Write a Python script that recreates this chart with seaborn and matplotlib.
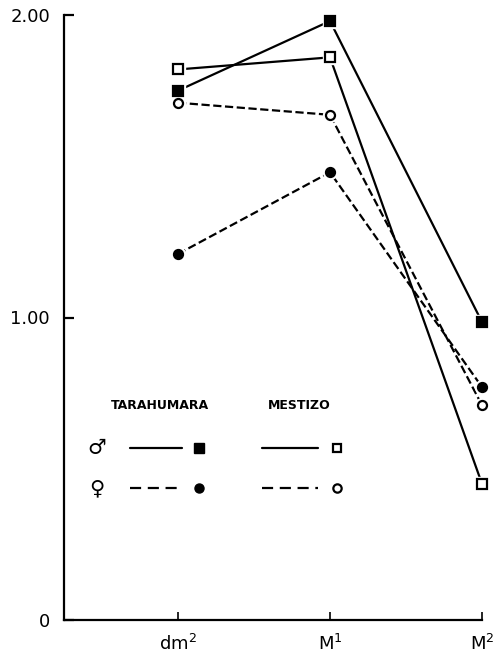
import matplotlib
matplotlib.use("Agg")
import matplotlib.pyplot as plt
import seaborn as sns
import pandas as pd

# Molar size ratios by tooth position
teeth = ["dm$^{2}$", "M$^{1}$", "M$^{2}$"]
tarahumara_male = [1.75, 1.98, 0.985]
tarahumara_female = [1.21, 1.48, 0.77]
mestizo_male = [1.82, 1.86, 0.45]
mestizo_female = [1.71, 1.67, 0.71]
y_ticks = [0, 1.0, 2.0]
y_tick_labels = ["0", "1.00", "2.00"]

sns.set_theme(style="white")
plt.rcParams["font.family"] = ["DejaVu Sans"]
plt.rcParams["text.color"] = "black"

series = [
    # values, linestyle, marker, filled
    (tarahumara_male, "-", "s", True),
    (mestizo_male, "-", "s", False),
    (tarahumara_female, "--", "o", True),
    (mestizo_female, "--", "o", False),
]

fig = plt.figure(figsize=(5.01, 6.54), dpi=100)
ax = fig.add_axes([64 / 501, 34 / 654, 418 / 501, 605 / 654])

pos = list(range(len(teeth)))
lw = 1.6
for vals, ls, mk, filled in series:
    df = pd.DataFrame({"pos": pos, "val": vals})
    sns.lineplot(data=df, x="pos", y="val", ax=ax, color="black",
                 linewidth=lw, linestyle=ls, dashes=False if ls == "-" else (5, 3),
                 clip_on=False, zorder=2)
    # white halo leaves a small gap between line and marker
    ax.plot(df["pos"], df["val"], linestyle="none", marker=mk, markersize=10,
            markerfacecolor="white", markeredgecolor="white", clip_on=False, zorder=3)
    ax.plot(df["pos"], df["val"], linestyle="none", marker=mk, markersize=6.5,
            markerfacecolor="black" if filled else "white",
            markeredgecolor="black", markeredgewidth=1.6, clip_on=False, zorder=4)

ax.set_xlim(-0.75, 2.0)
ax.set_ylim(0, 2.0)
ax.set_xticks(pos)
ax.set_xticklabels(teeth, fontsize=13)
ax.set_yticks(y_ticks)
ax.set_yticklabels(y_tick_labels, fontsize=13)
ax.set_xlabel("")
ax.set_ylabel("")

for side in ["top", "right"]:
    ax.spines[side].set_visible(False)
for side in ["left", "bottom"]:
    ax.spines[side].set_linewidth(1.6)
    ax.spines[side].set_color("black")

ax.tick_params(axis="y", left=True, direction="in", length=7, width=1.6, pad=10,
               color="black", labelcolor="black")
ax.tick_params(axis="x", bottom=True, direction="in", length=6, width=1.2, pad=10,
               color="black", labelcolor="black")

# Key
T = ax.transAxes
ax.text(0.230, 0.355, "TARAHUMARA", transform=T, ha="center", va="center",
        fontsize=9, fontweight="bold", color="black")
ax.text(0.562, 0.355, "MESTIZO", transform=T, ha="center", va="center",
        fontsize=9, fontweight="bold", color="black")
rows = [("\u2642", 0.284, "-", "s"), ("\u2640", 0.218, "--", "o")]
for sym, yy, ls, mk in rows:
    ax.text(0.079, yy, sym, transform=T, ha="center", va="center", fontsize=15,
            color="black")
    l1, = ax.plot([0.158, 0.282], [yy, yy], transform=T, color="black",
                  linewidth=lw, linestyle=ls)
    l2, = ax.plot([0.474, 0.608], [yy, yy], transform=T, color="black",
                  linewidth=lw, linestyle=ls)
    if ls == "--":
        l1.set_dashes((5, 3))
        l2.set_dashes((5, 3))
    ax.plot([0.323], [yy], transform=T, marker=mk, markersize=6.5,
            markerfacecolor="black", markeredgecolor="black", linestyle="none")
    ax.plot([0.653], [yy], transform=T, marker=mk, markersize=6,
            markerfacecolor="white", markeredgecolor="black",
            markeredgewidth=1.6, linestyle="none")

fig.savefig("out.png", dpi=100)
